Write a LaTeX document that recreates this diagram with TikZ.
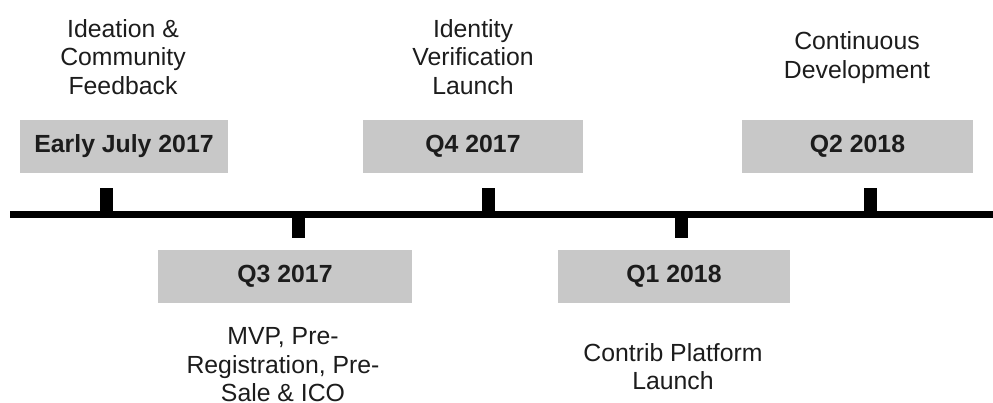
\documentclass[tikz,border=0pt]{standalone}
\usepackage{fontspec}
\setmainfont{Liberation Sans}
\definecolor{boxgray}{RGB}{200,200,200}
\definecolor{textdark}{RGB}{28,28,28}
\begin{document}
\begin{tikzpicture}[x=1pt,y=-1pt,
  datebox/.style={fill=boxgray, draw=none, inner sep=0pt, text=textdark,
    font=\fontsize{24.8}{28}\selectfont\bfseries},
  caption/.style={align=center, inner sep=0pt, text=textdark,
    font=\fontsize{24.8}{28.5}\selectfont},
  tickmark/.style={fill=black, draw=none},
  axis/.style={line width=7pt, black}]
\useasboundingbox (0,0) rectangle (993,403);
% timeline
\coordinate (tlstart) at (10,214.5);
\coordinate (tlend) at (993,214.5);
\draw[axis] (tlstart) -- (tlend);
% ticks
\fill[tickmark] (100,188) rectangle (113,215);
\fill[tickmark] (482,188) rectangle (495,215);
\fill[tickmark] (864,188) rectangle (877,215);
\fill[tickmark] (292,214) rectangle (305,238);
\fill[tickmark] (675,214) rectangle (688,238);
% date boxes
\node[datebox, minimum width=208pt, minimum height=53pt] (b1) at (124,146.5) {Early July 2017};
\node[datebox, minimum width=220pt, minimum height=53pt] (b3) at (473,146.5) {Q4 2017};
\node[datebox, minimum width=231pt, minimum height=53pt] (b5) at (857.5,146.5) {Q2 2018};
\node[datebox, minimum width=254pt, minimum height=53pt] (b2) at (285,276.5) {Q3 2017};
\node[datebox, minimum width=232pt, minimum height=53pt] (b4) at (674,276.5) {Q1 2018};
% captions
\node[caption] (c1) at (123,57) {Ideation \&\\Community\\Feedback};
\node[caption] (c3) at (473,57) {Identity\\Verification\\Launch};
\node[caption] (c5) at (857,57.5) {Continuous\\Development};
\node[caption] (c2) at (283,365) {MVP, Pre-\\Registration, Pre-\\Sale \& ICO};
\node[caption] (c4) at (673,366.5) {Contrib Platform\\Launch};
\end{tikzpicture}
\end{document}
